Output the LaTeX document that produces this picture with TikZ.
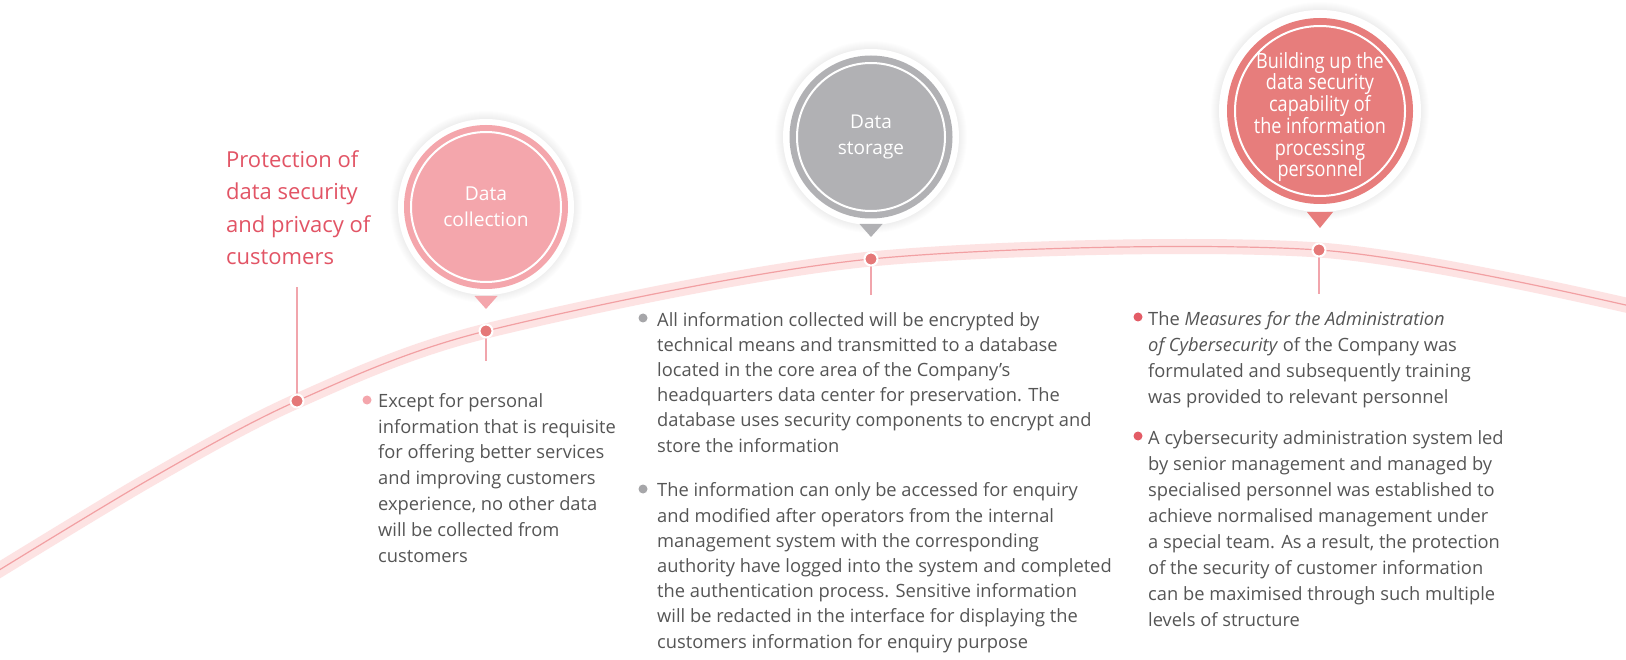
\documentclass[tikz,border=0pt]{standalone}
\usepackage{fontspec}
\setmainfont{Open Sans}
\newfontfamily\condfont{Open Sans}[FakeStretch=0.86]
\usetikzlibrary{calc}

\definecolor{bandpink}{HTML}{FDE3E3}
\definecolor{linepink}{HTML}{F2A0A3}
\definecolor{dotred}{HTML}{E57878}
\definecolor{stempink}{HTML}{F1A5AC}
\definecolor{titlered}{HTML}{E25465}
\definecolor{bodygray}{HTML}{555555}
\definecolor{collpink}{HTML}{F4A6AC}
\definecolor{storgray}{HTML}{B1B1B4}
\definecolor{persred}{HTML}{E77D7C}
\definecolor{bulgray}{HTML}{A6A6A9}
\definecolor{bulred}{HTML}{E35C66}

\tikzset{
  bubble/.style={circle, inner sep=0pt, text=white, align=center},
  body/.style={anchor=base west, inner sep=0pt, align=left, text=bodygray,
    font=\fontsize{18.3}{#1}\selectfont},
  body/.default=25.5,
  stem/.style={stempink, line width=1.3},
  knot/.style={circle, fill=dotred, draw=white, line width=2,
    minimum size=13, inner sep=0pt},
}

% white disc with a soft shadow round it
\newcommand\shadedisk[2]{%
  \foreach \k in {1,...,8}{\fill[black, opacity=0.009] (#1) circle ({#2+\k});}
  \fill[white] (#1) circle (#2);
}

\begin{document}
\begin{tikzpicture}[x=1pt, y=-1pt]

   \fill[white] (0,0) rectangle (1626,660);
   \useasboundingbox (0,0) rectangle (1626,660);

% the arc
\coordinate (a0) at (-30,588);
\coordinate (a1) at (150,479);
\coordinate (k1) at (297,401);
\coordinate (k2) at (486,331);
\coordinate (k3) at (871,259);
\coordinate (k4) at (1319,250);
\coordinate (a3) at (1660,313);

\draw[bandpink, line width=15] plot[smooth] coordinates {(a0) (a1) (k1) (k2) (k3) (k4) (a3)};
\draw[linepink, line width=1.2] plot[smooth] coordinates {(a0) (a1) (k1) (k2) (k3) (k4) (a3)};

% stems
\coordinate (s1) at (297,287);
\coordinate (s2) at (486,361);
\coordinate (s3) at (871,295);
\coordinate (s4) at (1319,294);
\draw[stem] (k1) -- (s1);
\draw[stem] (k2) -- (s2);
\draw[stem] (k3) -- (s3);
\draw[stem] (k4) -- (s4);

\node[knot] (d1) at (k1) {};
\node[knot] (d2) at (k2) {};
\node[knot] (d3) at (k3) {};
\node[knot] (d4) at (k4) {};

% bubbles
\shadedisk{486,207}{88}
\node[bubble, fill=collpink, minimum size=164, font=\fontsize{19.2}{26}\selectfont]
   (b1) at (486,207) {Data\\collection};
\draw[white, line width=2] (b1.center) circle (75);
\fill[collpink] ($(b1.center)+(-11.5,89)$) -- ++(23,0) -- ++(-11.5,13) -- cycle;

\shadedisk{871,137}{88}
\node[bubble, fill=storgray, minimum size=163, font=\fontsize{19}{26}\selectfont]
   (b2) at (871,137) {Data\\storage};
\draw[white, line width=2] (b2.center) circle (74);
\fill[storgray] ($(b2.center)+(-11.5,87)$) -- ++(23,0) -- ++(-11.5,13) -- cycle;

\shadedisk{1320,111}{101}
\node[bubble, fill=persred, minimum size=186] (b3) at (1320,111) {};
\draw[white, line width=2] (b3.center) circle (85);
\node[bubble, font=\condfont\fontsize{21}{21.7}\selectfont] (b3t) at ($(b3.center)+(0,6)$)
   {Building up the\\data security\\capability of\\the information\\processing\\personnel};
\fill[persred] ($(b3.center)+(-13,101)$) -- ++(26,0) -- ++(-13,16) -- cycle;

% title (anchored on its last line)
\node[anchor=base west, inner sep=0pt, align=left, text=titlered,
   font=\fontsize{22}{32.5}\selectfont] (title) at (226,265)
   {Protection of\\data security\\and privacy of\\customers};

% texts (anchored on their last lines)
\fill[collpink] (367,400) circle (4.5);
\node[body=25.8] (t1) at (378,562) {Except for personal\\information that is requisite\\for offering better services\\and improving customers\\experience, no other data\\will be collected from\\customers};

\fill[bulgray] (643,318) circle (4.5);
\node[body=25.2] (t2) at (657,452) {All information collected will be encrypted by\\technical means and transmitted to a database\\located in the core area of the Company’s\\headquarters data center for preservation. The\\database uses security components to encrypt and\\store the information};
\fill[bulgray] (643,489) circle (4.5);
\node[body=25.2] (t3) at (657,648) {The information can only be accessed for enquiry\\and modified after operators from the internal\\management system with the corresponding\\authority have logged into the system and completed\\the authentication process. Sensitive information\\will be redacted in the interface for displaying the\\customers information for enquiry purpose};

\fill[bulred] (1138,317) circle (4.5);
\node[body=26] (t4) at (1148,403) {The \textit{Measures for the Administration}\\\textit{of Cybersecurity} of the Company was\\formulated and subsequently training\\was provided to relevant personnel};
\fill[bulred] (1138,436) circle (4.5);
\node[body=26] (t5) at (1148,626) {A cybersecurity administration system led\\by senior management and managed by\\specialised personnel was established to\\achieve normalised management under\\a special team. As a result, the protection\\of the security of customer information\\can be maximised through such multiple\\levels of structure};

 \end{tikzpicture}
\end{document}
